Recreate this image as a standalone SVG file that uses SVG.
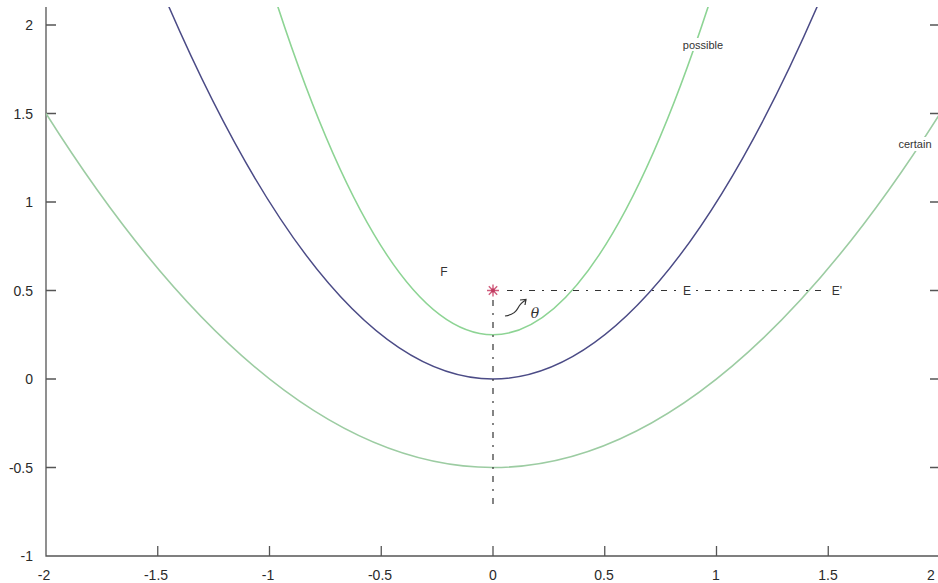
<svg xmlns="http://www.w3.org/2000/svg" width="938" height="583" viewBox="0 0 938 583">
<style>
.ax{stroke:#555;stroke-width:1.3;fill:none}
.tk{font-family:"Liberation Sans",Arial,sans-serif;font-size:14px;fill:#2a2a2a}
.lb{font-family:"Liberation Sans",Arial,sans-serif;font-size:11px;fill:#333}
.lb2{font-family:"Liberation Sans",Arial,sans-serif;font-size:12px;fill:#333}
.grn{fill:none;stroke:#8dd494;stroke-width:1.6}
.grn2{fill:none;stroke:#9cccA2;stroke-width:1.6}
.blu{fill:none;stroke:#4b4b86;stroke-width:1.5}
.dsh{fill:none;stroke:#333;stroke-width:1.2;stroke-dasharray:6 7 2 7}
</style>
<defs>
<clipPath id="plot"><rect x="46" y="7" width="894" height="549"/></clipPath>
</defs>
<rect width="938" height="583" fill="#fff"/>
<g id="axes">
<path class="ax" d="M46,7 V556 H940"/>
<path class="ax" d="M46,25 h10 M46,113.5 h10 M46,202 h10 M46,290.5 h10 M46,379 h10 M46,467.5 h10"/>
<path class="ax" d="M938,113.5 h-8 M938,202 h-8 M938,290.5 h-8 M938,379 h-8 M938,467.5 h-8 M938,25 h-8"/>
<path class="ax" d="M157.75,556 v-10 M269.5,556 v-10 M381.25,556 v-10 M493,556 v-10 M604.75,556 v-10 M716.5,556 v-10 M828.25,556 v-10"/>
<g class="tk" text-anchor="end">
<text x="33" y="30">2</text>
<text x="33" y="118.5">1.5</text>
<text x="33" y="207">1</text>
<text x="33" y="295.5">0.5</text>
<text x="33" y="384">0</text>
<text x="33" y="472.5">-0.5</text>
<text x="33" y="561">-1</text>
</g>
<g class="tk" text-anchor="middle">
<text x="44" y="580">-2</text>
<text x="156" y="580">-1.5</text>
<text x="268" y="580">-1</text>
<text x="380" y="580">-0.5</text>
<text x="493" y="580">0</text>
<text x="604" y="580">0.5</text>
<text x="716" y="580">1</text>
<text x="828" y="580">1.5</text>
<text x="931" y="580">2</text>
</g>
</g>
<g id="curves" clip-path="url(#plot)">
<path id="certain-curve" class="grn2" d="M46,113.5 Q493,821.5 940,113.5"/>
<path id="blue-curve" class="blu" d="M157.75,-19.25 Q493,777.25 828.25,-19.25"/>
<path id="possible-curve" class="grn" d="M269.5,-19.25 Q493,688.75 716.5,-19.25"/>
</g>
<g id="connectors">
<path class="dsh" d="M493,300 V506"/>
<path class="dsh" d="M507,290.5 H834"/>
<path fill="none" stroke="#333" stroke-width="1.2" d="M505,316 C512,315 516,312 518,308 C520,304 522,302 526,300"/>
<path fill="none" stroke="#333" stroke-width="1.2" d="M520,300 L526,299.5 L525,305"/>
</g>
<g id="F">
<g stroke="#d05c7c" stroke-width="1.4">
<path d="M487,290.5 h12 M493,284.5 v12 M488.8,286.3 l8.4,8.4 M497.2,286.3 l-8.4,8.4"/>
</g>
<circle cx="493" cy="290.5" r="2" fill="#c03a60"/>
<text class="lb2" x="444" y="276" text-anchor="middle">F</text>
</g>
<g id="theta">
<text x="535" y="318" font-family="'DejaVu Serif','Liberation Serif',serif" font-style="italic" font-size="14" fill="#333" text-anchor="middle">θ</text>
</g>
<g id="E">
<rect x="680" y="283" width="14" height="14" fill="#fff"/>
<text class="lb2" x="687" y="295" text-anchor="middle">E</text>
</g>
<g id="E-prime">
<rect x="828" y="283" width="17" height="14" fill="#fff"/>
<text class="lb2" x="837" y="295" text-anchor="middle">E'</text>
</g>
<g id="possible">
<rect x="683" y="38" width="40" height="13" fill="#fff"/>
<text class="lb" x="703" y="48.5" text-anchor="middle">possible</text>
</g>
<g id="certain">
<rect x="895" y="137" width="40" height="14" fill="#fff"/>
<text class="lb" x="915" y="148" text-anchor="middle">certain</text>
</g>
</svg>
